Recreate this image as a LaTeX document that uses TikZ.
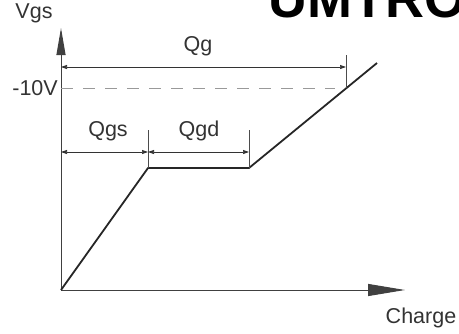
\documentclass[tikz,border=0pt]{standalone}
\usepackage{fontspec}
\setmainfont{Liberation Sans}
\usetikzlibrary{arrows.meta}
\tikzset{
axis/.style={draw=black!75, line width=1pt},
curve/.style={draw=black!85, line width=1.8pt, line join=round},
dim/.style={black!80, line width=0.7pt, {Triangle[length=6pt,width=4pt]}-{Triangle[length=6pt,width=4pt]}},
tick/.style={black!70, line width=0.7pt},
lbl/.style={font=\fontsize{21.5}{21.5}\selectfont, text=black!80, inner sep=0pt}
}
\begin{document}
\begin{tikzpicture}[x=1pt,y=-1pt]
\useasboundingbox (0,0) rectangle (459,333);
\begin{scope}
\clip (0,0) rectangle (459,333);
\node[anchor=base west, inner sep=0pt, font=\fontsize{54}{54}\selectfont\bfseries] (title) at (268,17) {UMTRO};
\end{scope}
% axes
\coordinate (O) at (61,290);
\coordinate (ytip) at (61,28);
\coordinate (xtip) at (405,290);
\draw[axis, -{Triangle[length=27pt,width=9pt]}] (O) -- (ytip);
\draw[axis, -{Triangle[length=37pt,width=12pt]}] (O) -- (xtip);
\node[lbl] (vgs) at (34,13) {Vgs};
\node[lbl] (charge) at (421,318) {Charge};
% gate charge curve
\coordinate (knee) at (148,168);
\coordinate (plat) at (249,168);
\coordinate (top) at (377,63);
\draw[curve] (O) -- (knee) -- (plat) -- (top);
% -10V level
\coordinate (v10) at (61,88);
\coordinate (v10end) at (335,88);
\node[lbl, anchor=east] (vlabel) at (58,88) {-10V};
\draw[black!40, line width=0.8pt, dash pattern=on 12pt off 10pt] (v10) -- (v10end);
% Qg
\coordinate (qgtop) at (346,55);
\coordinate (qgbot) at (346,88);
\coordinate (qgl) at (61,67);
\coordinate (qgr) at (346,67);
\draw[tick] (qgtop) -- (qgbot);
\draw[dim] (qgl) -- (qgr);
\node[lbl] (qg) at (198,46) {Qg};
% Qgs and Qgd
\coordinate (k1) at (148,130);
\coordinate (p1) at (249,130);
\coordinate (dl) at (61,152);
\coordinate (dm) at (148,152);
\coordinate (dr) at (249,152);
\draw[tick] (k1) -- (knee);
\draw[tick] (p1) -- (plat);
\draw[dim] (dl) -- (dm);
\draw[dim] (dm) -- (dr);
\node[lbl] (qgs) at (108,131) {Qgs};
\node[lbl] (qgd) at (199,131) {Qgd};
\end{tikzpicture}
\end{document}
